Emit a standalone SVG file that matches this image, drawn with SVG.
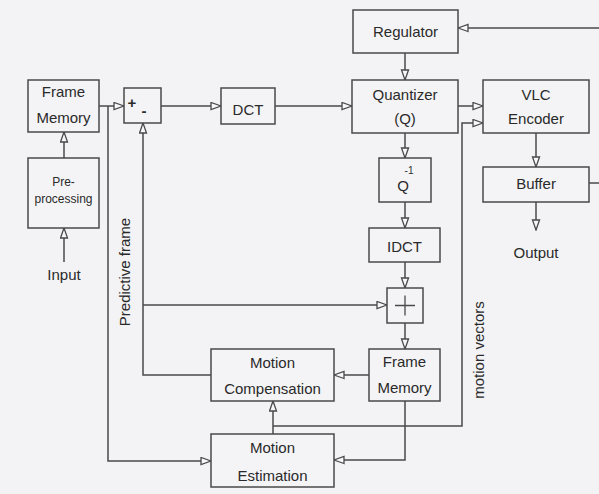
<svg xmlns="http://www.w3.org/2000/svg" width="599" height="494" viewBox="0 0 599 494">
<defs>
<style>
.box{fill:#f4f4f6;stroke:#4a4a4a;stroke-width:1.5}
.ln{fill:none;stroke:#4a4a4a;stroke-width:1.5}
.t{font-family:"Liberation Sans",Arial,sans-serif;font-size:15px;fill:#2a2a2a;text-anchor:middle}
.s{font-size:12px}
</style>
<marker id="ar" markerWidth="12" markerHeight="10" refX="11" refY="4.5" orient="auto" markerUnits="userSpaceOnUse">
<path d="M1,1 L11,4.5 L1,8 Z" fill="#f7f7f9" stroke="#4a4a4a" stroke-width="1.3"/>
</marker>
</defs>
<rect width="599" height="494" fill="#f3f3f5"/>
<g id="connectors">
<path class="ln" d="M64,262 V228" marker-end="url(#ar)"/>
<path class="ln" d="M64,158 V132" marker-end="url(#ar)"/>
<path class="ln" d="M99,106 H124" marker-end="url(#ar)"/>
<path class="ln" d="M108,106 V461 H211" marker-end="url(#ar)"/>
<path class="ln" d="M161,106 H221" marker-end="url(#ar)"/>
<path class="ln" d="M275,106 H352" marker-end="url(#ar)"/>
<path class="ln" d="M405,53 V80" marker-end="url(#ar)"/>
<path class="ln" d="M599,28 H458" marker-end="url(#ar)"/>
<path class="ln" d="M458,106 H483" marker-end="url(#ar)"/>
<path class="ln" d="M273,426 H462 V123 H483" marker-end="url(#ar)"/>
<path class="ln" d="M273,434 V401" marker-end="url(#ar)"/>
<path class="ln" d="M405,133 V158" marker-end="url(#ar)"/>
<path class="ln" d="M405,202 V228" marker-end="url(#ar)"/>
<path class="ln" d="M405,262 V288" marker-end="url(#ar)"/>
<path class="ln" d="M143,305 H387" marker-end="url(#ar)"/>
<path class="ln" d="M211,375 H143 V123" marker-end="url(#ar)"/>
<path class="ln" d="M405,323 V349" marker-end="url(#ar)"/>
<path class="ln" d="M369,375 H334" marker-end="url(#ar)"/>
<path class="ln" d="M405,401 V460 H334" marker-end="url(#ar)"/>
<path class="ln" d="M536,133 V167" marker-end="url(#ar)"/>
<path class="ln" d="M536,202 V230" marker-end="url(#ar)"/>
<path class="ln" d="M589,183 H599"/>
<text class="t" transform="translate(130,272) rotate(-90)">Predictive frame</text>
<text class="t" transform="translate(484,350) rotate(-90)">motion vectors</text>
</g>
<g id="input"><text class="t" x="64" y="280">Input</text></g>
<g id="output"><text class="t" x="536" y="258">Output</text></g>
<g id="frame-memory-1">
<rect class="box" x="28" y="80" width="71" height="52"/>
<text class="t" x="63.5" y="97">Frame</text>
<text class="t" x="63.5" y="123">Memory</text>
</g>
<g id="preprocessing">
<rect class="box" x="28" y="158" width="71" height="70"/>
<text class="t s" x="63.5" y="186">Pre-</text>
<text class="t s" x="63.5" y="203">processing</text>
</g>
<g id="subtractor">
<rect class="box" x="124" y="88" width="37" height="35"/>
<text class="t" x="132" y="108" font-weight="bold">+</text>
<text class="t" x="144" y="116" font-weight="bold">-</text>
</g>
<g id="dct">
<rect class="box" x="221" y="88" width="54" height="36"/>
<text class="t" x="248" y="115">DCT</text>
</g>
<g id="regulator">
<rect class="box" x="353" y="10" width="105" height="43"/>
<text class="t" x="405.5" y="37">Regulator</text>
</g>
<g id="quantizer">
<rect class="box" x="352" y="80" width="106" height="53"/>
<text class="t" x="405" y="100">Quantizer</text>
<text class="t" x="405" y="124">(Q)</text>
</g>
<g id="vlc-encoder">
<rect class="box" x="483" y="80" width="106" height="53"/>
<text class="t" x="536" y="100">VLC</text>
<text class="t" x="536" y="124">Encoder</text>
</g>
<g id="buffer">
<rect class="box" x="483" y="167" width="106" height="35"/>
<text class="t" x="536" y="189">Buffer</text>
</g>
<g id="inverse-quantizer">
<rect class="box" x="379" y="158" width="52" height="44"/>
<text class="t" x="409" y="174" style="font-size:10px">-1</text>
<text class="t" x="403" y="191">Q</text>
</g>
<g id="idct">
<rect class="box" x="369" y="228" width="71" height="34"/>
<text class="t" x="404.5" y="252">IDCT</text>
</g>
<g id="adder">
<rect class="box" x="387" y="288" width="36" height="35"/>
<path class="ln" d="M395,305.5 H415 M405,295.5 V315.5" style="stroke-width:1.3"/>
</g>
<g id="frame-memory-2">
<rect class="box" x="369" y="349" width="71" height="52"/>
<text class="t" x="404.5" y="367">Frame</text>
<text class="t" x="404.5" y="393">Memory</text>
</g>
<g id="motion-compensation">
<rect class="box" x="211" y="349" width="123" height="52"/>
<text class="t" x="272.5" y="368">Motion</text>
<text class="t" x="272.5" y="394">Compensation</text>
</g>
<g id="motion-estimation">
<rect class="box" x="211" y="434" width="123" height="53"/>
<text class="t" x="272.5" y="453">Motion</text>
<text class="t" x="272.5" y="481">Estimation</text>
</g>
</svg>
